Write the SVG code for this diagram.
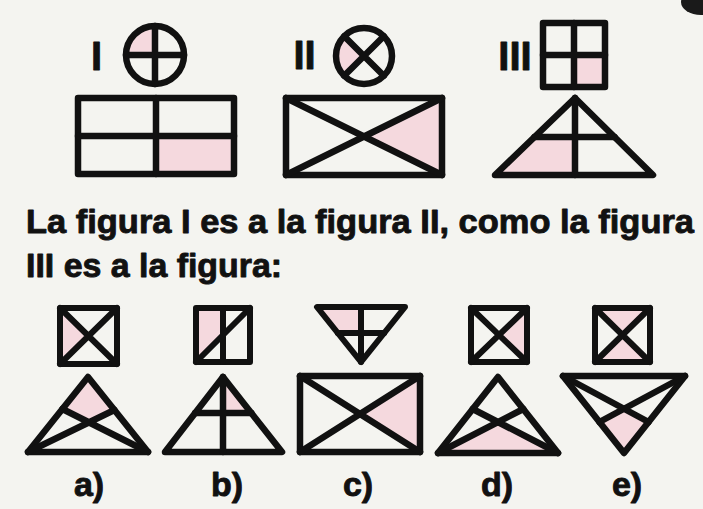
<svg xmlns="http://www.w3.org/2000/svg" width="703" height="509" viewBox="0 0 703 509">
<style>
.s{fill:none;stroke:#111;stroke-width:6.5;stroke-linejoin:round;stroke-linecap:round}
.t{stroke-width:6}
.p{fill:#f5d9de;stroke:none}
.txt{font-family:"Liberation Sans",Arial,sans-serif;font-weight:bold;fill:#111;stroke:#111;stroke-width:0.9;stroke-linejoin:round}
</style>
<rect width="703" height="509" fill="#f4f4f0"/>
<ellipse cx="701" cy="2" rx="20" ry="13" fill="#1a1a1a"/>

<g id="fig-I">
<text class="txt" x="96.5" y="70" font-size="40" text-anchor="middle">I</text>
<path class="p" d="M155,55 L126,55 A29,29 0 0 1 155,26 Z"/>
<circle class="s" cx="155" cy="55" r="29"/>
<path class="s" d="M126,55 H184 M155,26 V84"/>
<rect class="p" x="156" y="136" width="78" height="38"/>
<rect class="s" x="78" y="98" width="156" height="76"/>
<path class="s" d="M78,136 H234 M156,98 V174"/>
</g>

<g id="fig-II">
<text class="txt" x="304.5" y="69" font-size="40" text-anchor="middle">II</text>
<path class="p" d="M364,56 L344.2,36.2 A28,28 0 0 0 344.2,75.8 Z"/>
<circle class="s" cx="364" cy="56" r="28"/>
<path class="s" d="M344.2,36.2 L383.8,75.8 M383.8,36.2 L344.2,75.8"/>
<path class="p" d="M442,98 L442,175 L364,136.5 Z"/>
<rect class="s" x="286" y="98" width="156" height="77"/>
<path class="s" d="M286,98 L442,175 M442,98 L286,175"/>
</g>

<g id="fig-III">
<text class="txt" x="515" y="70" font-size="40" text-anchor="middle">III</text>
<rect class="p" x="574" y="55" width="31" height="32"/>
<rect class="s" x="543" y="23" width="62" height="64"/>
<path class="s" d="M574,23 V87 M543,55 H605"/>
<path class="p" d="M534.5,137 L575,137 L575,175 L495,175 Z"/>
<path class="s" d="M575,98 L653,175 L495,175 Z"/>
<path class="s" d="M575,98 V175 M534.5,137 H614.5"/>
</g>

<g id="question">
<text class="txt" x="26" y="233" font-size="34" textLength="668" lengthAdjust="spacingAndGlyphs">La figura I es a la figura II, como la figura</text>
<text class="txt" x="26" y="277" font-size="34" textLength="256" lengthAdjust="spacingAndGlyphs">III es a la figura:</text>
</g>

<g id="option-a">
<path class="p" d="M60,308 L88.5,336 L60,364 Z"/>
<rect class="s t" x="60" y="308" width="57" height="56"/>
<path class="s t" d="M60,308 L117,364 M117,308 L60,364"/>
<path class="p" d="M88,377 L62.4,409 L89,422.4 L114.4,410 Z"/>
<path class="s" d="M88,377 L148,452 L28,452 Z"/>
<path class="s" d="M28,452 L114.4,410 M148,452 L62.4,409"/>
<text class="txt" x="89" y="496" font-size="34" text-anchor="middle">a)</text>
</g>

<g id="option-b">
<path class="p" d="M196,308 L223,308 L223,335 L196,362 Z"/>
<rect class="s t" x="196" y="308" width="54" height="54"/>
<path class="s t" d="M223,308 V362 M196,362 L250,308"/>
<path class="p" d="M223,377 L223,413 L251.3,413 Z"/>
<path class="s" d="M223,377 L282,452 L165,452 Z"/>
<path class="s" d="M223,377 V452 M195.2,413 H251.3"/>
<text class="txt" x="227" y="496" font-size="34" text-anchor="middle">b)</text>
</g>

<g id="option-c">
<path class="p" d="M317,307 L361,307 L361,333 L337.8,333 Z"/>
<path class="s t" d="M317,307 L405,307 L361,362 Z"/>
<path class="s t" d="M361,307 V362 M337.8,333 H384.2"/>
<path class="p" d="M420,376 L420,452 L360,414 Z"/>
<rect class="s" x="300" y="376" width="120" height="76"/>
<path class="s" d="M300,376 L420,452 M420,376 L300,452"/>
<text class="txt" x="358" y="496" font-size="34" text-anchor="middle">c)</text>
</g>

<g id="option-d">
<path class="p" d="M527,308 L527,362 L499,335 Z"/>
<rect class="s t" x="471" y="308" width="56" height="54"/>
<path class="s t" d="M471,308 L527,362 M527,308 L471,362"/>
<path class="p" d="M438,453 L498,422 L558,453 Z"/>
<path class="s" d="M498,377 L558,453 L438,453 Z"/>
<path class="s" d="M438,453 L523.3,409 M558,453 L472.7,409"/>
<text class="txt" x="497" y="496" font-size="34" text-anchor="middle">d)</text>
</g>

<g id="option-e">
<path class="p" d="M595,308 L650,308 L622.5,335 Z M595,362 L650,362 L622.5,335 Z"/>
<rect class="s t" x="595" y="308" width="55" height="54"/>
<path class="s t" d="M595,308 L650,362 M650,308 L595,362"/>
<path class="p" d="M624,408.8 L599.4,422 L624,453 L648.6,422 Z"/>
<path class="s" d="M563,376 L685,376 L624,453 Z"/>
<path class="s" d="M563,376 L648.6,422 M685,376 L599.4,422"/>
<text class="txt" x="627" y="496" font-size="34" text-anchor="middle">e)</text>
</g>
</svg>
